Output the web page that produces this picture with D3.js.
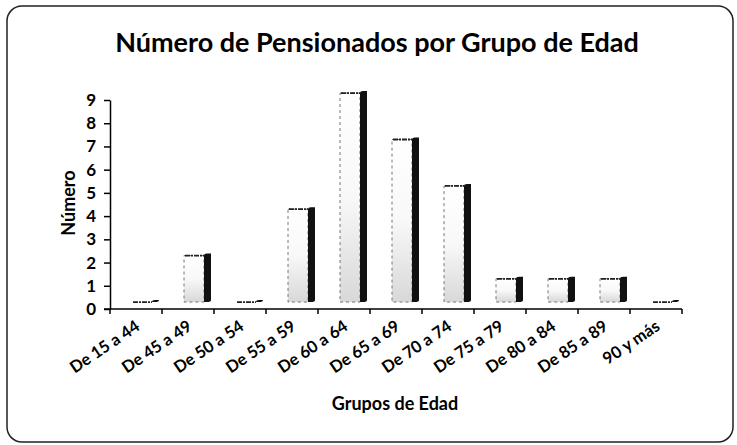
<!DOCTYPE html>
<html>
<head>
<meta charset="utf-8">
<script src="https://cdn.jsdelivr.net/npm/d3@7"></script>
<style>
  body { margin: 0; background: #fff; }
  svg text { font-family: Lato, 'Open Sans', sans-serif; font-weight: bold; fill: #000; }
</style>
</head>
<body>
<svg id="chart" width="737" height="445"></svg>
<script>
// data
var categories = ['De 15 a 44', 'De 45 a 49', 'De 50 a 54', 'De 55 a 59', 'De 60 a 64',
  'De 65 a 69', 'De 70 a 74', 'De 75 a 79', 'De 80 a 84', 'De 85 a 89', '90 y más']
var values = [0, 2, 0, 4, 9, 7, 5, 1, 1, 1, 0]
var yTicks = [0, 1, 2, 3, 4, 5, 6, 7, 8, 9]

var title = 'Número de Pensionados por Grupo de Edad'
var xTitle = 'Grupos de Edad'
var yTitle = 'Número'

var svg = d3.select('#chart')
var plotLeft = 110
var plotRight = 682
var plotTop = 100
var plotBottom = 309
var floor = 0.3 // the 3d floor lifts the bars a bit

// frame
svg.append('rect')
  .attr('x', 7).attr('y', 6)
  .attr('width', 726).attr('height', 436)
  .attr('rx', 15)
  .attr('fill', '#fff')
  .attr('stroke', '#222')
  .attr('stroke-width', 1.5)

var defs = svg.append('defs')
var grad = defs.append('linearGradient')
  .attr('id', 'front')
  .attr('x1', 0).attr('y1', 0).attr('x2', 0).attr('y2', 1)
grad.append('stop').attr('offset', '0%').attr('stop-color', '#ffffff')
grad.append('stop').attr('offset', '50%').attr('stop-color', '#f8f8f8')
grad.append('stop').attr('offset', '100%').attr('stop-color', '#d8d8d8')

var x = d3.scaleBand()
  .domain(categories)
  .range([plotLeft, plotRight])
  .padding(0)

var y = d3.scaleLinear()
  .domain([0, 9])
  .range([plotBottom, plotTop])

// bars
var bars = svg.append('g').attr('class', 'bars')
  .selectAll('g')
  .data(categories.map(function (c, i) { return { cat: c, v: values[i] } }))
  .join('g')
  .attr('transform', function (d) { return 'translate(' + (x(d.cat) + 22) + ',0)' })

var fw = 20 // front face width
var sw = 7 // dark side width

bars.append('rect')
  .attr('x', 0)
  .attr('y', function (d) { return y(d.v + floor) })
  .attr('width', fw)
  .attr('height', function (d) { return y(floor) - y(d.v + floor) })
  .attr('fill', 'url(#front)')
  .attr('stroke', '#777')
  .attr('stroke-width', 1)
  .attr('stroke-dasharray', '3,3')

bars.append('path')
  .attr('d', function (d) {
    var t = y(d.v + floor) - 2
    var b = y(floor)
    return 'M' + fw + ',' + (t + 2) + ' Q' + fw + ',' + t + ' ' + (fw + 3) + ',' + t +
      ' L' + (fw + sw) + ',' + t + ' L' + (fw + sw) + ',' + (b - 2) +
      ' Q' + (fw + sw) + ',' + b + ' ' + (fw + 3) + ',' + b + ' L' + fw + ',' + b + 'Z'
  })
  .attr('fill', '#111')

bars.append('line')
  .attr('x1', 1).attr('x2', fw)
  .attr('y1', function (d) { return y(d.v + floor) })
  .attr('y2', function (d) { return y(d.v + floor) })
  .attr('stroke', '#222')
  .attr('stroke-width', 1.8)
  .attr('stroke-dasharray', '5,1,2,1')

// y axis
var yAxis = svg.append('g')
  .attr('transform', 'translate(' + plotLeft + ',0)')
  .call(d3.axisLeft(y).tickValues(yTicks).tickSize(6).tickSizeOuter(0))
yAxis.select('.domain').attr('stroke', '#000').attr('stroke-width', 1.5)
yAxis.selectAll('.tick line').attr('stroke', '#000').attr('stroke-width', 1.5)
yAxis.selectAll('.tick text')
  .attr('x', -14)
  .attr('font-size', 17)
  .style('font-family', 'Lato, sans-serif')
  .style('font-weight', 'bold')

// x axis, ticks sit between the groups
var xEdges = d3.range(categories.length + 1).map(function (i) {
  return i < categories.length ? x(categories[i]) : plotRight
})
var xAxis = svg.append('g')
xAxis.append('line')
  .attr('x1', plotLeft - 6).attr('x2', plotRight)
  .attr('y1', plotBottom).attr('y2', plotBottom)
  .attr('stroke', '#000').attr('stroke-width', 1.5)
xAxis.selectAll('.xtick')
  .data(xEdges)
  .join('line')
  .attr('class', 'xtick')
  .attr('x1', function (d) { return d }).attr('x2', function (d) { return d })
  .attr('y1', plotBottom).attr('y2', plotBottom + 5)
  .attr('stroke', '#000').attr('stroke-width', 1.5)
xAxis.selectAll('.xlabel')
  .data(categories)
  .join('text')
  .attr('class', 'xlabel')
  .attr('transform', function (d) {
    return 'translate(' + (x(d) + x.bandwidth() / 2 + 5) + ',' + (plotBottom + 20) + ') rotate(-34)'
  })
  .attr('text-anchor', 'end')
  .attr('font-size', 16.5)
  .text(function (d) { return d })

// titles
svg.append('text')
  .attr('x', 377).attr('y', 52)
  .attr('text-anchor', 'middle')
  .attr('font-size', 27)
  .text(title)

svg.append('text')
  .attr('x', 395).attr('y', 410)
  .attr('text-anchor', 'middle')
  .attr('font-size', 18)
  .text(xTitle)

svg.append('text')
  .attr('transform', 'translate(75,203) rotate(-90)')
  .attr('text-anchor', 'middle')
  .attr('font-size', 18)
  .text(yTitle)
</script>
</body>
</html>
